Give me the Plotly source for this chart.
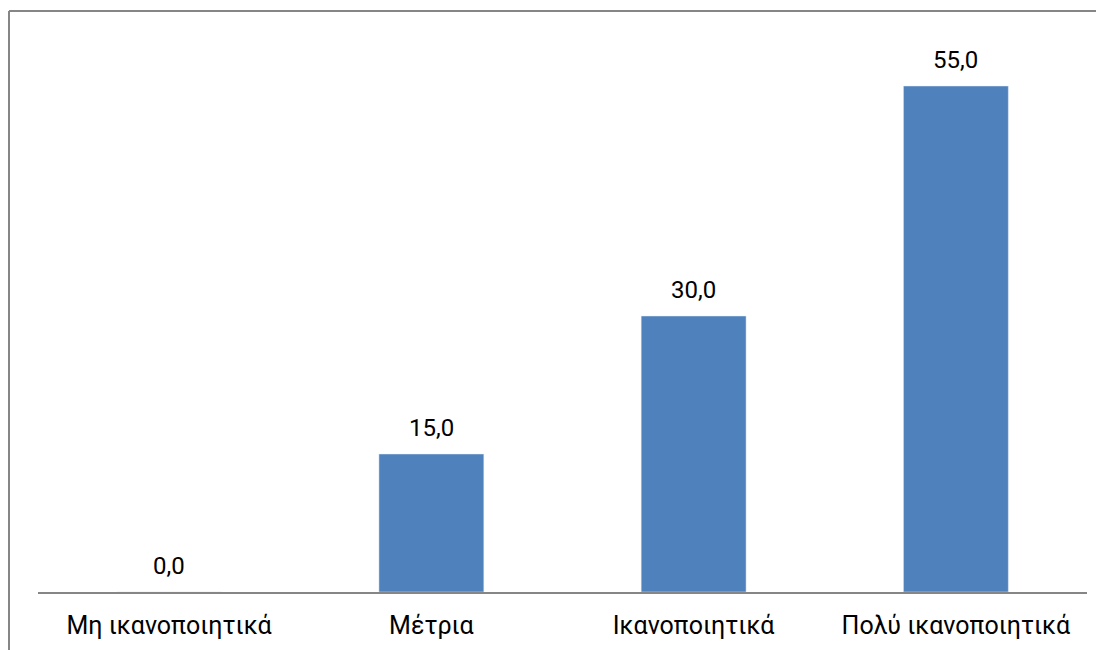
import plotly.graph_objects as go

categories = ["Μη ικανοποιητικά", "Μέτρια", "Ικανοποιητικά", "Πολύ ικανοποιητικά"]
values = [0.0, 15.0, 30.0, 55.0]

BAR_COLOR = "#4F81BD"
LINE_COLOR = "#868686"
FONT = "Roboto"

fig = go.Figure(go.Bar(x=categories, y=values, marker_color=BAR_COLOR, width=0.4,
                       hoverinfo="skip"))

for c, v in zip(categories, values):
    fig.add_annotation(x=c, y=v, text=f"{v:.1f}".replace(".", ","), showarrow=False,
                       yshift=26, font=dict(family=FONT, size=24, color="#000000"))

# page body has an 8px offset; work in figure coordinates (screen - 8)
W, H = 1104, 650
ml, mr, mt, mb = 30, 25, 32, 66
pw, ph = W - ml - mr, H - mt - mb

def px_x(x):
    return (x - ml) / pw

def px_y(y):
    return (H - mb - y) / ph

fig.add_shape(type="line", xref="paper", yref="paper", x0=px_x(1), x1=px_x(W + 5),
              y0=px_y(3), y1=px_y(3), line=dict(color=LINE_COLOR, width=2))
fig.add_shape(type="line", xref="paper", yref="paper", x0=px_x(1), x1=px_x(1),
              y0=px_y(3), y1=px_y(H + 5), line=dict(color=LINE_COLOR, width=2))

fig.update_layout(
    width=W, height=H,
    margin=dict(l=ml, r=mr, t=mt, b=mb),
    paper_bgcolor="white", plot_bgcolor="white",
    showlegend=False,
    font=dict(family=FONT, size=24, color="#000000"),
    xaxis=dict(showline=True, linecolor=LINE_COLOR, linewidth=1.5, ticks="",
               showgrid=False, tickfont=dict(family=FONT, size=25), fixedrange=True,
               ticklabelstandoff=10),
    yaxis=dict(range=[0, 60], visible=False, showgrid=False, zeroline=False, fixedrange=True),
)

fig.write_html("out.html")
